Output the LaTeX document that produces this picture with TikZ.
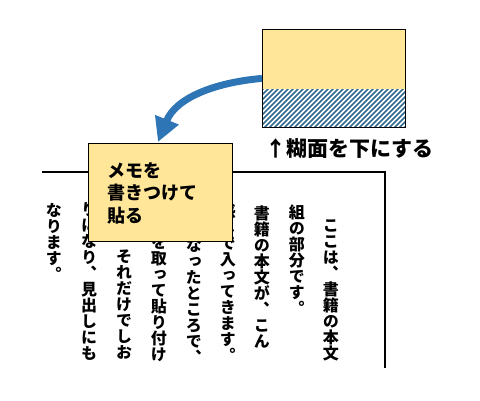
\documentclass[tikz,border=0pt]{standalone}
\usepackage{fontspec}
\usetikzlibrary{arrows.meta}
\newfontfamily\jp{Noto Sans CJK JP}
\newfontfamily\tate[RawFeature={vertical;+vert}]{Noto Sans CJK JP}
\definecolor{memofill}{HTML}{FFE699}
\definecolor{arrowblue}{HTML}{2E75B6}
\definecolor{hatchblue}{HTML}{31698F}
\tikzset{
  col/.style={rotate=-90, anchor=west, inner sep=0pt, font=\tate\bfseries\fontsize{16}{18}\selectfont},
  frameline/.style={line width=2.5pt, black},
  memobox/.style={draw=black, line width=0.8pt, fill=memofill, inner sep=0pt},
  hatchline/.style={hatchblue, line width=1.7pt},
}
\begin{document}
\begin{tikzpicture}[x=1pt,y=-1pt]
\useasboundingbox (0,0) rectangle (480,400);
% page frame
\coordinate (fa) at (42,172);
\coordinate (fb) at (385,172);
\coordinate (fc) at (385,368);
\draw[frameline] (fa) -- (fb) -- (fc);
% vertical body text
\node[col] (c1) at (337,217) {ここは、書籍の本文};
\node[col] (c2) at (303,204) {組の部分です。};
\node[col] (c3) at (268,205) {書籍の本文が、こん};
\node[col] (c4) at (234,203) {感じで入ってきます。};
\node[col] (c5) at (200,237) {なったところで、};
\node[col] (c6) at (165,234) {を取って貼り付け};
\node[col] (c7) at (130,248) {それだけでしお};
\node[col] (c8) at (95,201) {りになり、見出しにも};
\node[col] (c9) at (60,202) {なります。};
% memo
\node[memobox, anchor=north west, minimum width=144pt, minimum height=98pt] (memo) at (88,143) {};
\node[anchor=north west, align=left, inner sep=0pt, font=\jp\bfseries\fontsize{18}{22.5}\selectfont] (memotext) at (107,162) {メモを\\書きつけて\\貼る};
% glue sheet
\node[memobox, anchor=north west, minimum width=143pt, minimum height=98pt] (sheet) at (262,29) {};
\begin{scope}
\clip (262,89) rectangle (405,127);
\fill[white] (262,89) rectangle (405,127);
\foreach \i in {0,...,40} {
  \draw[hatchline] (215+5*\i,132) -- ++(50,-50);
}
\end{scope}
\draw[line width=0.8pt] (sheet.north west) rectangle (sheet.south east);
% label
\node[anchor=west, inner sep=0pt, font=\jp\bfseries\fontsize{21}{24}\selectfont] (lbl) at (265,149) {↑糊面を下にする};
% arrow
\coordinate (tip) at (158,142);
\draw[arrowblue, line width=7pt, -{Triangle[width=24pt,length=24pt]}] (sheet.west) to[out=185,in=68] (tip);
\end{tikzpicture}
\end{document}
